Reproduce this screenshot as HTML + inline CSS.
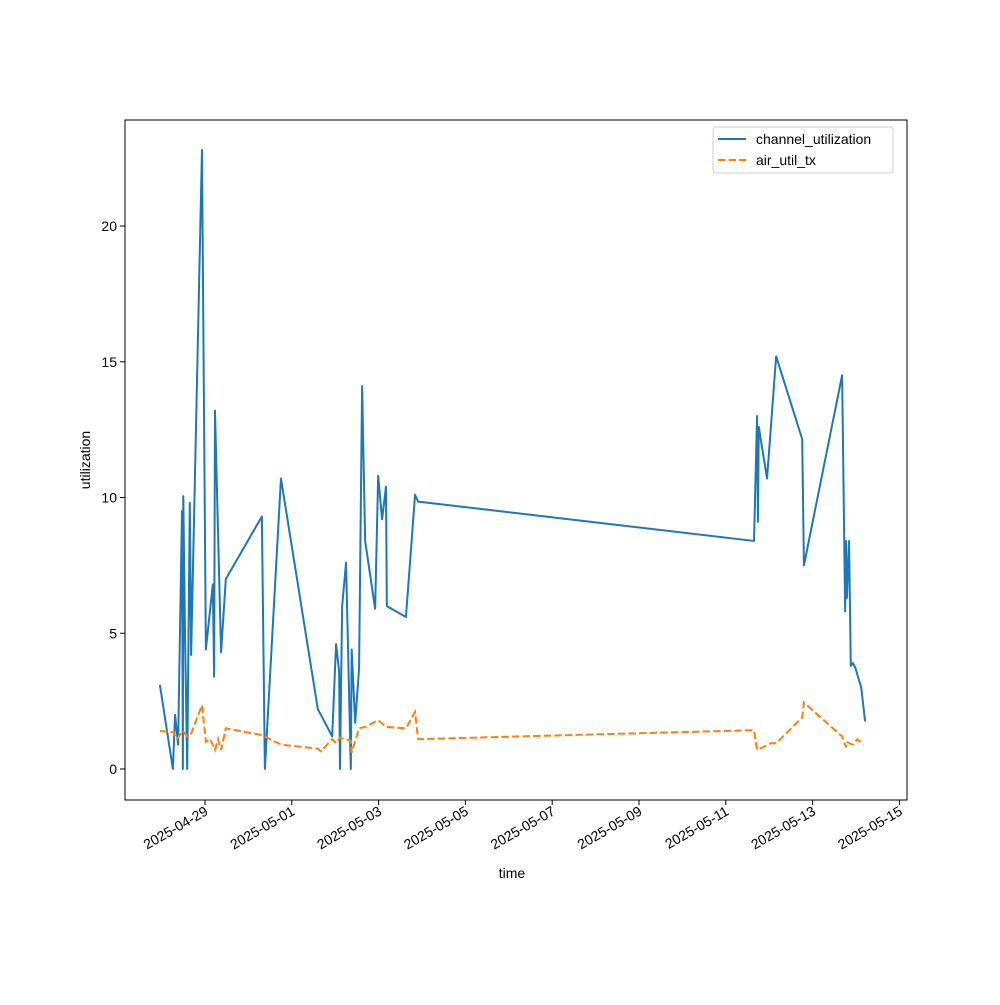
<!DOCTYPE html>
<html><head><meta charset="utf-8"><style>
body{margin:0;background:#fff}
svg{font-family:"Liberation Sans","DejaVu Sans",sans-serif}
</style></head><body>
<svg id="chart" width="1000" height="1000" viewBox="0 0 1000 1000">
<rect x="0" y="0" width="1000" height="1000" fill="#fff"/>
<g id="plot"></g>
</svg>
<script>
const blueDays=[-1.04,-0.74,-0.69,-0.62,-0.53,-0.51,-0.50,-0.46,-0.41,-0.35,-0.32,-0.07,0.02,0.18,0.21,0.23,0.37,0.48,1.31,1.38,1.75,2.60,2.67,2.93,3.02,3.09,3.11,3.16,3.25,3.36,3.38,3.46,3.55,3.62,3.69,3.92,3.99,4.08,4.17,4.19,4.63,4.84,4.91,12.65,12.72,12.74,12.76,12.95,13.16,13.76,13.80,14.68,14.75,14.77,14.79,14.84,14.88,14.93,14.98,15.12,15.21];
const blueVals=[3.1,0,2.0,0.9,9.5,0,10.05,4.9,0,9.8,4.2,22.8,4.4,6.8,3.4,13.2,4.3,7.0,9.3,0,10.7,2.2,2.0,1.2,4.6,3.6,0,6.0,7.6,0,4.4,1.7,3.7,14.1,8.4,5.9,10.8,9.2,10.4,6.0,5.6,10.1,9.85,8.4,13.0,9.1,12.6,10.7,15.2,12.15,7.5,14.5,5.8,8.4,6.3,8.4,3.8,3.9,3.75,3.0,1.75];
const orangeDays=[-1.04,-0.72,-0.65,-0.51,-0.41,-0.32,-0.07,0.02,0.12,0.23,0.30,0.37,0.48,1.31,1.75,2.60,2.67,2.93,3.02,3.11,3.36,3.38,3.55,3.69,3.99,4.17,4.63,4.84,4.91,12.65,12.72,13.04,13.16,13.76,13.80,14.68,14.77,14.79,14.84,14.93,15.03,15.17];
const orangeVals=[1.4,1.35,1.1,1.4,1.2,1.3,2.35,1.0,1.1,0.7,1.1,0.7,1.5,1.25,0.9,0.75,0.65,1.1,0.95,1.15,1.05,0.6,1.5,1.55,1.8,1.55,1.5,2.1,1.1,1.43,0.7,0.95,0.95,1.9,2.45,1.2,0.8,1.0,0.95,0.9,1.1,0.9];
const yTicks=[0,5,10,15,20];
const xTickDays=[0,2,4,6,8,10,12,14,16];
const xTickLabels=["2025-04-29","2025-05-01","2025-05-03","2025-05-05","2025-05-07","2025-05-09","2025-05-11","2025-05-13","2025-05-15"];
const L=125,R=907,T=120,B=800;
const xs=d=>205+d*43.4;
const ys=v=>769-v*27.15;
const NS="http://www.w3.org/2000/svg";
const g=document.getElementById('plot');
function mk(tag,attrs){const e=document.createElementNS(NS,tag);for(const k in attrs)e.setAttribute(k,attrs[k]);g.appendChild(e);return e;}
// series
let p1=mk('polyline',{points:blueDays.map((d,i)=>xs(d)+','+ys(blueVals[i])).join(' '),fill:'none',stroke:'#1f77b4','stroke-width':2,'stroke-linejoin':'round'});


let p2=mk('polyline',{points:orangeDays.map((d,i)=>xs(d)+','+ys(orangeVals[i])).join(' '),fill:'none',stroke:'#ff7f0e','stroke-width':2,'stroke-dasharray':'7.4,3.2'});


// frame
let fr=mk('rect',{x:L,y:T,width:R-L,height:B-T,fill:'none',stroke:'#000','stroke-width':1});


yTicks.forEach(v=>{
  mk('line',{x1:L-5,x2:L,y1:ys(v),y2:ys(v),stroke:'#000'});
  let t=mk('text',{x:L-8,y:ys(v)+5,'text-anchor':'end','font-size':14});
  t.textContent=v;
  
  
});
xTickDays.forEach((d,i)=>{
  const x=xs(d);
  mk('line',{x1:x,x2:x,y1:B,y2:B+5,stroke:'#000'});
  let t=mk('text',{x:x+4,y:B+14,'text-anchor':'end','font-size':14,transform:`rotate(-30 ${x+4} ${B+14})`});
  t.textContent=xTickLabels[i];
  
  
});
let xt=mk('text',{x:512,y:878,'text-anchor':'middle','font-size':14});
xt.textContent='time';


let yt=mk('text',{x:90,y:460,'text-anchor':'middle','font-size':14,transform:'rotate(-90 90 460)'});
yt.textContent='utilization';


// legend
let lg=mk('rect',{x:713,y:127,width:180,height:46,rx:3,fill:'#fff',stroke:'#ccc'});


mk('line',{x1:718,x2:746,y1:139,y2:139,stroke:'#1f77b4','stroke-width':2});
mk('line',{x1:718,x2:746,y1:160,y2:160,stroke:'#ff7f0e','stroke-width':2,'stroke-dasharray':'7.4,3.2'});
let l1=mk('text',{x:756,y:144,'font-size':14});l1.textContent='channel_utilization';


let l2=mk('text',{x:756,y:165,'font-size':14});l2.textContent='air_util_tx';


</script>
</body></html>
